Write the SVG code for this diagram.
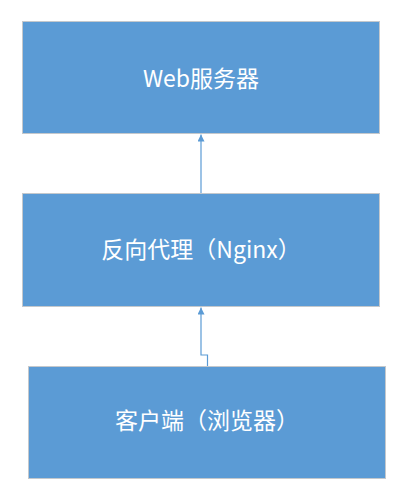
<svg xmlns="http://www.w3.org/2000/svg" width="407" height="498" viewBox="0 0 407 498">
<style>
.box{fill:#5b9bd5;stroke:#c4c8cc;stroke-width:1}
.lbl{fill:#ffffff;font-family:"Noto Sans CJK SC","Microsoft YaHei",sans-serif;font-size:23px;text-anchor:middle}
.conn{fill:none;stroke:#5b9bd5;stroke-width:1.2}
</style>
<defs>
<marker id="arr" viewBox="0 0 10 10" refX="10" refY="5" markerWidth="7" markerHeight="7" markerUnits="userSpaceOnUse" orient="auto">
<path d="M0,0 L10,5 L0,10 Z" fill="#5b9bd5"/>
</marker>
</defs>
<rect width="407" height="498" fill="#ffffff"/>
<g id="web">
<rect class="box" x="22.5" y="21.5" width="357" height="112"/>
<text class="lbl" x="201" y="86.5">Web服务器</text>
</g>
<g id="nginx">
<rect class="box" x="22.5" y="193.5" width="357" height="113"/>
<text class="lbl" x="201" y="257.5">反向代理（Nginx）</text>
</g>
<g id="client">
<rect class="box" x="28.5" y="366.5" width="357" height="112"/>
<text class="lbl" x="207" y="428.5">客户端（浏览器）</text>
</g>
<g id="connectors">
<path class="conn" d="M201,193 L201,134.5" marker-end="url(#arr)"/>
<path class="conn" d="M207.5,366 L207.5,355 L201,355 L201,307.5" marker-end="url(#arr)"/>
</g>
</svg>
